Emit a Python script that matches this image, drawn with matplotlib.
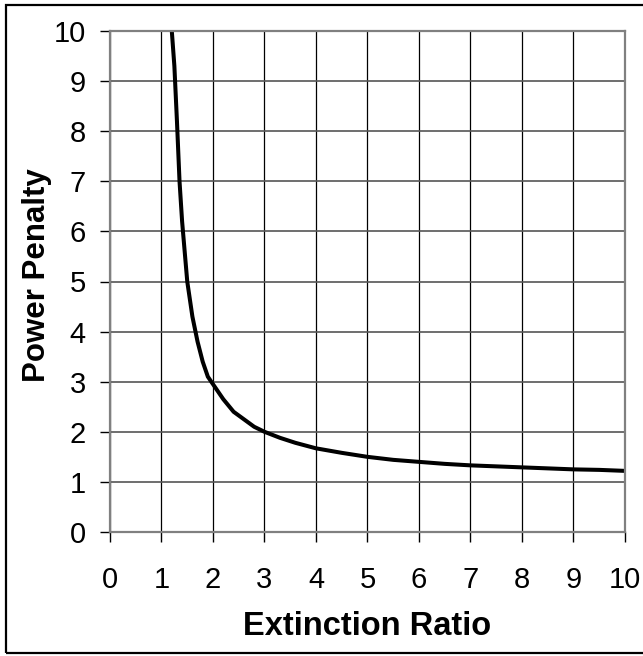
import matplotlib
matplotlib.use("Agg")
from matplotlib import pyplot as plt
from matplotlib.patches import Rectangle

# extinction ratio vs power penalty
ratio = [1.2, 1.25, 1.3, 1.35, 1.4, 1.45, 1.5, 1.6, 1.7, 1.8, 1.9, 2.0,
         2.2, 2.4, 2.6, 2.8, 3.0, 3.3, 3.6, 4.0, 4.5, 5.0, 5.5, 6.0,
         6.5, 7.0, 7.5, 8.0, 8.5, 9.0, 9.5, 10.0]
penalty = [10.0, 9.3, 8.2, 7.0, 6.2, 5.6, 5.0, 4.3, 3.8, 3.4, 3.1, 2.95,
           2.65, 2.4, 2.25, 2.1, 2.0, 1.88, 1.78, 1.67, 1.58, 1.5, 1.44, 1.4,
           1.36, 1.33, 1.31, 1.29, 1.27, 1.25, 1.24, 1.22]
ticks = list(range(0, 11))

plt.rcParams['font.family'] = ['Liberation Sans', 'DejaVu Sans']

fig = plt.figure(figsize=(6.43, 6.56), dpi=100)
ax = fig.add_axes([110 / 643, 124 / 656, 515 / 643, 501 / 656])

ax.plot(ratio, penalty, color='black', lw=2.9, solid_joinstyle='miter')

ax.set_xlim(0, 10)
ax.set_ylim(0, 10)
ax.set_xticks(ticks)
ax.set_yticks(ticks)
ax.xaxis.grid(True, color='black', lw=0.9)
ax.yaxis.grid(True, color='#555555', lw=1.2)
ax.set_axisbelow(True)
for s in ax.spines.values():
    s.set_color('#808080')
    s.set_linewidth(1.6)
ax.tick_params(direction='out', length=7.5, width=1, color='black',
               labelsize=21)
ax.tick_params(axis='x', pad=17)
ax.tick_params(axis='y', pad=10)

ax.set_xlabel('Extinction Ratio', fontsize=23.5, fontweight='bold', va='baseline')
ax.set_ylabel('Power Penalty', fontsize=22.5, fontweight='bold', va='center')
ax.xaxis.set_label_coords(0.5, -0.2056)
ax.yaxis.set_label_coords(-0.142, 0.512)

# outer frame of the chart
fig.patches.append(Rectangle((6 / 643, 3 / 656), 645 / 643, 648 / 656,
                             transform=fig.transFigure, fill=False,
                             edgecolor='black', lw=1.6))

fig.savefig('out.png', dpi=100)
